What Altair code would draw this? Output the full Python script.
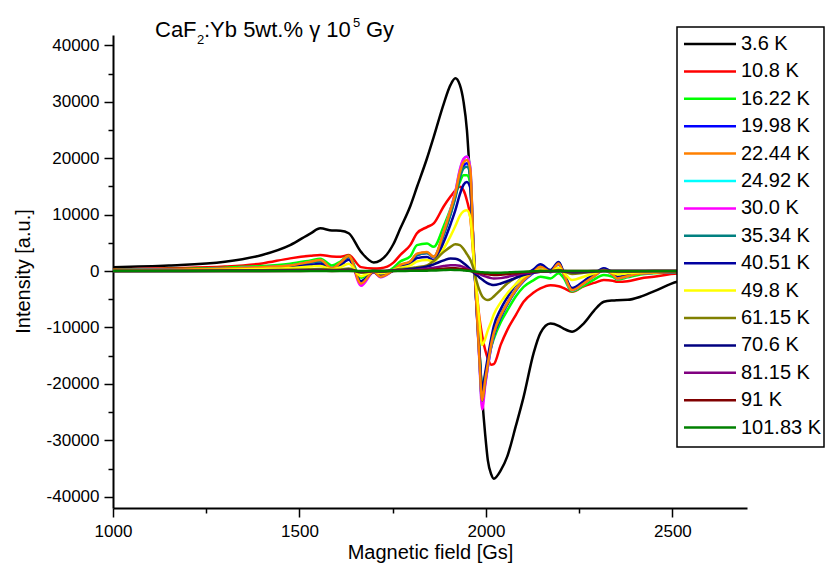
import altair as alt
import pandas as pd

# Magnetic field grid [Gs]
FIELD = [1000, 1150, 1300, 1400, 1475, 1530, 1556, 1587, 1610, 1632,
         1665, 1699, 1717, 1752, 1770, 1797, 1815, 1842, 1860, 1887,
         1905, 1918, 1930, 1940, 1949, 1958, 1966, 1975, 1982, 1990,
         1998, 2005, 2014, 2021, 2040, 2057, 2080, 2101, 2128, 2146,
         2173, 2195, 2208, 2231, 2262, 2290, 2316, 2340, 2352, 2380,
         2414, 2450, 2513, 2600, 2700]

NAMES = ["3.6 K", "10.8 K", "16.22 K", "19.98 K", "22.44 K", "24.92 K", "30.0 K",
         "35.34 K", "40.51 K", "49.8 K", "61.15 K", "70.6 K", "81.15 K", "91 K", "101.83 K"]
COLORS = ["#000000", "#ff0000", "#00ff00", "#0000ff", "#ff8000", "#00ffff", "#ff00ff",
          "#008080", "#0000a0", "#ffff00", "#808000", "#000080", "#800080", "#800000", "#008000"]

T3_6 = [700, 1000, 1650, 2850, 4600, 6700, 7570, 7200, 7150, 6700,
        3400, 1540, 1900, 4800, 7500, 11500, 14900, 20000, 23800, 29700,
        33000, 34170, 33000, 30000, 25000, 15500, 5500, -5500, -14000, -22500,
        -29000, -33500, -36000, -36800, -35300, -32900, -27500, -22300, -14500, -11000,
        -9300, -9700, -10200, -10760, -9300, -7000, -5440, -5200, -5150, -5100,
        -4550, -3600, -1900, -1200, -600]
T10_8 = [300, 500, 800, 1360, 2250, 2700, 2840, 2600, 2540, 2840,
         700, 450, 500, 1500, 2840, 4600, 6700, 7800, 8450, 11500,
         13200, 14300, 14950, 14300, 12500, 9600, 3000, -3500, -8000, -11500,
         -14000, -15500, -16600, -16500, -13000, -10460, -7800, -5440, -3800, -3070,
         -2500, -2700, -3000, -3670, -2700, -2100, -1600, -1700, -1900, -1800,
         -1300, -1000, -450, -300, -150]
T16_22 = [200, 350, 600, 900, 1300, 1900, 2200, 1000, 1700, 2700,
          -1200, 100, -500, 600, 1700, 2600, 4600, 4900, 4300, 8000,
          11000, 13500, 15800, 17000, 17000, 15500, 4500, -6000, -13500, -20500,
          -18500, -16000, -13500, -12000, -9000, -7000, -4500, -2800, -1600, -1000,
          -1300, -400, -1200, -3600, -2600, -1500, -700, -1000, -1500, -1100,
          -600, -400, -200, -100, -50]
T19_98 = [150, 250, 400, 650, 950, 1500, 1800, 500, 1400, 2500,
          -2000, -100, -900, 200, 1000, 1600, 2800, 3200, 2500, 6600,
          10200, 13300, 16800, 18600, 19100, 17500, 5000, -6800, -15000, -23300,
          -19800, -17000, -13500, -11500, -8200, -6000, -3500, -1800, -300, 600,
          -200, 1200, -500, -3300, -2200, -900, 150, -600, -1300, -900,
          -400, -300, -120, -50, 0]
T22_44 = [150, 250, 450, 700, 1000, 1650, 1950, 480, 1500, 2660,
          -2200, -120, -1000, 180, 1100, 1700, 3100, 3400, 2540, 7000,
          10800, 13800, 17500, 19300, 19680, 18000, 5000, -6500, -15000, -22900,
          -19300, -16500, -13000, -11000, -7800, -5730, -3300, -1600, -120, 760,
          -120, 1360, -410, -3370, -2190, -900, 180, -600, -1300, -900,
          -410, -300, -120, -50, 0]
T24_92 = [150, 250, 420, 680, 980, 1600, 1900, 450, 1450, 2600,
          -2300, -150, -1050, 150, 1000, 1650, 3000, 3300, 2400, 6900,
          10900, 14000, 17900, 19800, 20300, 18300, 5200, -6500, -15000, -23800,
          -19800, -16800, -13200, -11000, -7700, -5700, -3300, -1600, -100, 800,
          -100, 1400, -400, -3400, -2200, -900, 200, -600, -1300, -900,
          -400, -300, -120, -50, 0]
T30_0 = [150, 250, 420, 680, 980, 1600, 1900, 400, 1400, 2600,
         -2600, -200, -1100, 150, 1000, 1650, 3000, 3300, 2400, 6900,
         10900, 14100, 18000, 19900, 20300, 18400, 5300, -6700, -15500, -24500,
         -20300, -17000, -13300, -11100, -7800, -5700, -3300, -1600, -100, 800,
         -100, 1400, -400, -3400, -2200, -900, 200, -600, -1300, -900,
         -400, -300, -120, -50, 0]
T35_34 = [150, 250, 400, 650, 950, 1500, 1750, 500, 1400, 2500,
          -2100, -100, -950, 200, 1000, 1600, 2900, 3200, 2500, 6500,
          10000, 13000, 16500, 18200, 18500, 17000, 4800, -6500, -14500, -23000,
          -19500, -16500, -13200, -11200, -7900, -5800, -3300, -1600, -100, 900,
          0, 1500, -300, -3300, -2100, -800, 300, -500, -1200, -800,
          -400, -300, -100, -50, 0]
T40_51 = [100, 200, 300, 500, 750, 1100, 1300, 200, 1000, 2000,
          -1800, -200, -800, 100, 700, 1200, 2300, 2500, 1900, 5200,
          8300, 10800, 13600, 15300, 15800, 14800, 4000, -6500, -13500, -21000,
          -18000, -15300, -12000, -9800, -6700, -4700, -2400, -900, 300, 1200,
          200, 1600, -100, -3000, -1800, -500, 500, -300, -1000, -700,
          -300, -200, -100, -50, 0]
T49_8 = [80, 150, 250, 380, 550, 800, 900, 300, 700, 1300,
         -900, 0, -400, 200, 600, 1000, 1700, 1950, 1700, 4000,
         6200, 8000, 9800, 10600, 10800, 9500, 3000, -3500, -8500, -13100,
         -12000, -10500, -9000, -7700, -5500, -3960, -2300, -1000, -200, 300,
         -100, 600, -200, -1600, -1000, -400, 100, -300, -600, -400,
         -200, -150, -50, 0, 0]
T61_15 = [30, 60, 100, 150, 220, 320, 380, 250, 300, 450,
          -300, 0, -100, 200, 350, 500, 700, 1000, 1800, 3400,
          4300, 4750, 4600, 3900, 3000, 2000, 600, -1800, -3300, -4500,
          -5000, -5140, -4900, -4500, -3300, -2200, -1200, -450, -100, 100,
          -50, 200, -50, -500, -300, -100, 50, -50, -150, -100,
          -50, 0, 0, 0, 0]
T70_6 = [0, 20, 40, 60, 100, 150, 200, 100, 150, 250,
         -150, 0, -50, 100, 200, 350, 500, 800, 1200, 1900,
         2250, 2200, 1900, 1400, 900, 300, -200, -700, -1100, -1500,
         -1900, -2200, -2400, -2480, -2200, -1800, -1200, -700, -300, -100,
         -50, 0, -50, -200, -150, -50, 0, 0, 0, 0,
         0, 0, 0, 0, 0]
T81_15 = [0, 10, 20, 30, 50, 80, 100, 60, 80, 120,
          -50, 0, 0, 50, 100, 180, 250, 400, 600, 900,
          1050, 1050, 950, 700, 450, 150, -100, -350, -550, -750,
          -950, -1100, -1250, -1300, -1250, -1050, -700, -400, -200, -100,
          -50, 0, 0, -50, -30, 0, 0, 0, 0, 0,
          0, 0, 0, 0, 0]
T91 = [0, 5, 10, 20, 30, 40, 50, 30, 40, 60,
       -20, 0, 0, 30, 60, 80, 100, 180, 280, 420,
       500, 480, 420, 320, 200, 60, -80, -200, -300, -400,
       -500, -580, -650, -680, -650, -550, -380, -220, -100, -50,
       0, 0, 0, 0, 0, 0, 0, 0, 0, 0,
       0, 0, 0, 0, 0]
T101_83 = [0, 0, 0, 0, 0, 10, 10, 0, 10, 20,
           0, 0, 0, 20, 30, 40, 60, 80, 100, 180,
           220, 200, 170, 120, 70, 20, -40, -100, -150, -200,
           -240, -270, -290, -300, -280, -230, -160, -100, -50, -20,
           0, 0, 0, 0, 0, 0, 0, 0, 0, 0,
           0, 0, 0, 0, 0]

VALUES = [T3_6, T10_8, T16_22, T19_98, T22_44, T24_92, T30_0, T35_34, T40_51,
          T49_8, T61_15, T70_6, T81_15, T91, T101_83]

# drawing order (later drawn on top)
DRAW_ORDER = ["3.6 K", "10.8 K", "16.22 K", "19.98 K", "24.92 K", "30.0 K", "35.34 K",
              "40.51 K", "22.44 K", "49.8 K", "61.15 K", "70.6 K", "81.15 K", "91 K", "101.83 K"]

series_map = dict(zip(NAMES, VALUES))
rows = []
for name in DRAW_ORDER:
    vals = series_map[name]
    assert len(vals) == len(FIELD), name
    for b, v in zip(FIELD, vals):
        rows.append({"series": name, "B": b, "I": v})
df = pd.DataFrame(rows)

FONT = "Liberation Sans"
W, H = 634, 473

color_scale = alt.Scale(domain=NAMES, range=COLORS)

x_axis = alt.Axis(
    values=list(range(1000, 2701, 250)),
    labelExpr="datum.value % 500 === 0 ? '' + datum.value : ''",
    tickSize={"condition": {"test": "datum.value % 500 === 0", "value": 9}, "value": 5},
    tickWidth=1.5, tickColor="black", domainWidth=2, domainColor="black",
    labelFont=FONT, labelFontSize=17, labelColor="black", labelPadding=6,
    labelFlush=False, labelOverlap=False, grid=False,
    title="Magnetic field [Gs]", titleFont=FONT, titleFontSize=20,
    titleFontWeight="normal", titleColor="black",
    titleX=W / 2, titleY=50, titleAlign="center", titleBaseline="alphabetic",
)
y_axis = alt.Axis(
    values=list(range(-40000, 40001, 5000)),
    labelExpr="datum.value % 10000 === 0 ? '' + datum.value : ''",
    tickSize={"condition": {"test": "datum.value % 10000 === 0", "value": 9}, "value": 5},
    tickWidth=1.5, tickColor="black", domainWidth=2, domainColor="black",
    labelFont=FONT, labelFontSize=17, labelColor="black", labelPadding=5,
    labelOverlap=False, grid=False,
    title="Intensity [a.u.]", titleFont=FONT, titleFontSize=20,
    titleFontWeight="normal", titleColor="black",
    titleX=-84, titleY=236, titleAngle=270, titleAlign="center",
    titleBaseline="alphabetic",
)

lines = alt.Chart(df).mark_line(strokeWidth=2.5, interpolate="monotone").encode(
    x=alt.X("B:Q", scale=alt.Scale(domain=[1000, 2700], nice=False, zero=False), axis=x_axis),
    y=alt.Y("I:Q", scale=alt.Scale(domain=[-42000, 41850], nice=False, zero=False), axis=y_axis),
    color=alt.Color("series:N", scale=color_scale, legend=None),
)

# Legend (drawn manually, boxed, over the plot)
leg_df = pd.DataFrame({"series": NAMES})
leg_y = alt.Y("series:N", scale=alt.Scale(type="point", domain=NAMES, range=[9, 392.6], padding=0),
              axis=None)
box = alt.Chart(pd.DataFrame({"k": [0]})).mark_rect(
    fill="white", stroke="black", strokeWidth=1.5
).encode(x=alt.value(564), x2=alt.value(711), y=alt.value(-8), y2=alt.value(412))
leg_rules = alt.Chart(leg_df).mark_rule(strokeWidth=2.5).encode(
    x=alt.value(571), x2=alt.value(623), y=leg_y,
    color=alt.Color("series:N", scale=color_scale, legend=None),
)
leg_text = alt.Chart(leg_df).mark_text(
    align="left", baseline="middle", font=FONT, fontSize=20, color="black"
).encode(x=alt.value(628), y=leg_y, text="series:N")

# Title pieces: CaF2:Yb 5wt.% γ 10^5 Gy
TITLE_PARTS = ["CaF", "2", ":Yb 5wt.% γ 10", "5", "Gy"]


def title_piece(txt, xpos, ypos, size):
    return alt.Chart(pd.DataFrame({"t": [txt]})).mark_text(
        align="left", baseline="alphabetic", font=FONT, fontSize=size, color="black"
    ).encode(x=alt.value(xpos), y=alt.value(ypos), text="t:N")


titles = [
    title_piece(TITLE_PARTS[0], 42, 2, 22),
    title_piece(TITLE_PARTS[1], 84, 9, 13),
    title_piece(TITLE_PARTS[2], 91, 2, 22),
    title_piece(TITLE_PARTS[3], 240, -8, 13),
    title_piece(TITLE_PARTS[4], 253, 2, 22),
]

chart = alt.layer(lines, box, leg_rules, leg_text, *titles).resolve_scale(
    y="independent"
).properties(
    width=W, height=H,
    padding={"left": 105, "top": 27, "right": 79, "bottom": 55},
    autosize=alt.AutoSizeParams(type="none"),
    background="white",
).configure_view(stroke=None)

chart.save("out.html", embed_options={"renderer": "svg", "actions": False})
